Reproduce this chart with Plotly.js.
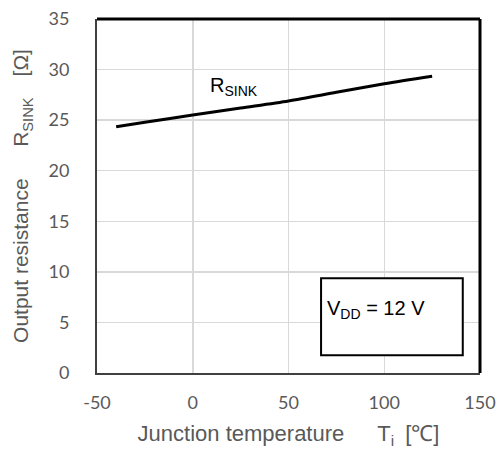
<!DOCTYPE html>
<html>
<head>
<meta charset="utf-8">
<script src="https://cdn.plot.ly/plotly-3.0.1.min.js"></script>
<style>html,body{margin:0;padding:0;background:#fff;}#chart{width:498px;height:452px;}</style>
</head>
<body>
<div id="chart"></div>
<script>
// Data
const temps = [-40, -25, 0, 25, 50, 75, 100, 125];          // Junction temperature Tj [°C]
const rsink = [24.35, 24.8, 25.5, 26.2, 26.9, 27.75, 28.6, 29.35]; // Output resistance R_SINK [Ω]
const xTicks = [-50, 0, 50, 100, 150];
const yTicks = [0, 5, 10, 15, 20, 25, 30, 35];
const seriesLabel = 'R<sub>SINK</sub>';
const conditionLabel = 'V<sub>DD</sub> = 12 V';
const xTitle = 'Junction temperature\u2002\u2002\u2002T<sub>i</sub>\u2002[℃]';
const yTitle = 'Output resistance\u2002\u2002\u2002R<sub>SINK</sub>\u2002\u2002[Ω]';

const tickFont = {family: 'Lato, sans-serif', size: 18, color: '#595959'};

const trace = {
  x: temps, y: rsink, type: 'scatter', mode: 'lines',
  line: {color: '#000000', width: 3, shape: 'spline', smoothing: 0.8},
  hoverinfo: 'skip', showlegend: false
};

const layout = {
  width: 498, height: 452,
  margin: {l: 97, r: 18, t: 19, b: 79},
  paper_bgcolor: '#ffffff', plot_bgcolor: '#ffffff',
  showlegend: false,
  xaxis: {
    range: [-50, 150], tickvals: xTicks, ticktext: xTicks.map(String),
    showgrid: true, gridcolor: '#d9d9d9', gridwidth: 1.5,
    zeroline: false, showline: true, linecolor: '#404040', linewidth: 2,
    ticks: '', ticklabelstandoff: 12, tickfont: tickFont, fixedrange: true,
    title: {text: xTitle, font: {family: 'Liberation Sans, Arial, sans-serif', size: 22, color: '#595959'}, standoff: 14}
  },
  yaxis: {
    range: [0, 35], tickvals: yTicks, ticktext: yTicks.map(String),
    showgrid: true, gridcolor: '#d9d9d9', gridwidth: 1.5,
    zeroline: false, showline: true, linecolor: '#404040', linewidth: 2,
    ticks: '', ticklabelstandoff: 22, tickfont: tickFont, fixedrange: true,
    title: {text: yTitle, font: {family: 'Liberation Sans, Arial, sans-serif', size: 21, color: '#595959'}, standoff: 14}
  },
  shapes: [
    {type: 'line', xref: 'paper', yref: 'paper', x0: 0, x1: 1, y0: 1, y1: 1, line: {color: '#000', width: 3}},
    {type: 'line', xref: 'paper', yref: 'paper', x0: 1, x1: 1, y0: 0, y1: 1, line: {color: '#000', width: 3}},
    {type: 'rect', xref: 'x', yref: 'y', x0: 67, x1: 141, y0: 1.76, y1: 9.37, line: {color: '#000', width: 2}, fillcolor: '#ffffff'}
  ],
  annotations: [
    {x: 8, y: 28.3, xref: 'x', yref: 'y', text: seriesLabel, showarrow: false, xanchor: 'left', yanchor: 'middle',
     font: {family: 'Liberation Sans, Arial, sans-serif', size: 20, color: '#000'}},
    {x: 69, y: 6.3, xref: 'x', yref: 'y', text: conditionLabel, showarrow: false, xanchor: 'left', yanchor: 'middle',
     font: {family: 'Liberation Sans, Arial, sans-serif', size: 20, color: '#000'}}
  ]
};

Plotly.newPlot('chart', [trace], layout, {displayModeBar: false, staticPlot: true});
</script>
</body>
</html>
